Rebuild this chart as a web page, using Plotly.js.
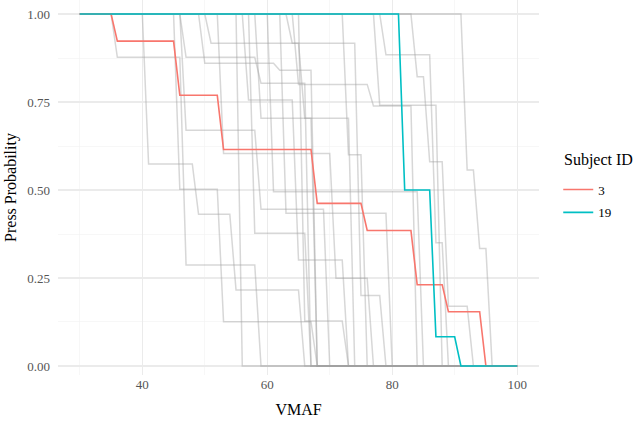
<!DOCTYPE html>
<html>
<head>
<meta charset="utf-8">
<script src="https://cdn.plot.ly/plotly-3.0.1.min.js"></script>
<style>html,body{margin:0;padding:0;background:#fff;}#chart{width:639px;height:425px;}</style>
</head>
<body>
<div id="chart"></div>
<script>
// Highlighted subjects
const subject3_x = [30, 35, 36, 45, 46, 52, 53, 67, 68, 75, 76, 83, 84, 88, 89, 94, 95, 100];
const subject3_y = [1, 1, 0.923, 0.923, 0.769, 0.769, 0.615, 0.615, 0.462, 0.462, 0.385, 0.385, 0.231, 0.231, 0.154, 0.154, 0, 0];
const subject19_x = [30, 81, 82, 86, 87, 90, 91, 100];
const subject19_y = [1, 1, 0.5, 0.5, 0.083, 0.083, 0, 0];

// Other subjects (grey background curves)
const g01_x = [30, 35, 36, 46, 47, 58, 59, 100];
const g01_y = [1, 1, 0.877, 0.877, 0.287, 0.287, 0, 0];
const g02_x = [30, 40, 41, 48, 49, 54, 55, 65, 66, 100];
const g02_y = [1, 1, 0.574, 0.574, 0.431, 0.431, 0.216, 0.216, 0, 0];
const g03_x = [30, 45, 46, 52, 53, 67, 68, 100];
const g03_y = [1, 1, 0.502, 0.502, 0.126, 0.126, 0, 0];
const g04_x = [30, 46, 47, 58, 59, 69, 70, 100];
const g04_y = [1, 1, 0.67, 0.67, 0.445, 0.445, 0, 0];
const g05_x = [30, 55, 56, 100];
const g05_y = [1, 1, 0, 0];
const g06_x = [30, 50, 51, 65, 66, 73, 74, 100];
const g06_y = [1, 1, 0.917, 0.917, 0.704, 0.704, 0, 0];
const g07_x = [30, 46, 47, 58, 59, 66, 67, 100];
const g07_y = [1, 1, 0.877, 0.877, 0.803, 0.803, 0, 0];
const g08_x = [30, 56, 57, 64, 65, 72, 73, 100];
const g08_y = [1, 1, 0.756, 0.756, 0.301, 0.301, 0, 0];
const g09_x = [30, 58, 59, 67, 68, 100];
const g09_y = [1, 1, 0.704, 0.704, 0, 0];
const g10_x = [30, 49, 50, 61, 62, 67, 68, 100];
const g10_y = [1, 1, 0.86, 0.86, 0.84, 0.84, 0, 0];
const g11_x = [30, 52, 53, 70, 71, 76, 77, 100];
const g11_y = [1, 1, 0.604, 0.604, 0.249, 0.249, 0, 0];
const g12_x = [30, 57, 58, 66, 67, 100];
const g12_y = [1, 1, 0.377, 0.377, 0, 0];
const g13_x = [30, 60, 61, 84, 85, 100];
const g13_y = [1, 1, 0.495, 0.495, 0, 0];
const g14_x = [30, 62, 63, 79, 80, 100];
const g14_y = [1, 1, 0.434, 0.434, 0, 0];
const g15_x = [30, 64, 65, 76, 77, 83, 84, 100];
const g15_y = [1, 1, 0.8, 0.8, 0.739, 0.739, 0, 0];
const g16_x = [30, 65, 66, 72, 73, 100];
const g16_y = [1, 1, 0.128, 0.128, 0, 0];
const g17_x = [30, 72, 73, 75, 76, 100];
const g17_y = [1, 1, 0.6, 0.6, 0, 0];
const g18_x = [30, 77, 78, 87, 88, 100];
const g18_y = [1, 1, 0.741, 0.741, 0, 0];
const g19_x = [30, 78, 79, 86, 87, 88, 89, 100];
const g19_y = [1, 1, 0.884, 0.884, 0.35, 0.35, 0, 0];
const g20_x = [30, 83, 84, 85, 86, 88, 89, 92, 93, 100];
const g20_y = [1, 1, 0.822, 0.822, 0.58, 0.58, 0.17, 0.17, 0, 0];
const g21_x = [30, 91, 92, 93, 94, 95, 96, 100];
const g21_y = [1, 1, 0.557, 0.557, 0.334, 0.334, 0, 0];
const g22_x = [30, 63, 64, 74, 75, 78, 79, 100];
const g22_y = [1, 1, 0.917, 0.917, 0.2, 0.2, 0, 0];

const greyX = [g01_x, g02_x, g03_x, g04_x, g05_x, g06_x, g07_x, g08_x, g09_x, g10_x, g11_x,
               g12_x, g13_x, g14_x, g15_x, g16_x, g17_x, g18_x, g19_x, g20_x, g21_x, g22_x];
const greyY = [g01_y, g02_y, g03_y, g04_y, g05_y, g06_y, g07_y, g08_y, g09_y, g10_y, g11_y,
               g12_y, g13_y, g14_y, g15_y, g16_y, g17_y, g18_y, g19_y, g20_y, g21_y, g22_y];

const xTicks = [40, 60, 80, 100];
const xMinor = [30, 50, 70, 90];
const yTicks = [0, 0.25, 0.5, 0.75, 1];
const yTickText = ['0.00', '0.25', '0.50', '0.75', '1.00'];
const yMinor = [0.125, 0.375, 0.625, 0.875];

const traces = [];
for (let i = 0; i < greyX.length; i++) {
  traces.push({
    x: greyX[i], y: greyY[i], type: 'scatter', mode: 'lines',
    line: {color: 'rgba(160,160,160,0.42)', width: 1.5},
    showlegend: false, hoverinfo: 'skip'
  });
}
traces.push({x: subject3_x, y: subject3_y, type: 'scatter', mode: 'lines', name: '3',
  legendgroup: 's3', line: {color: '#F8766D', width: 1.6}});
traces.push({x: subject19_x, y: subject19_y, type: 'scatter', mode: 'lines', name: '19',
  legendgroup: 's19', line: {color: '#00BFC4', width: 1.6}});

const fontFam = 'Liberation Serif';
const layout = {
  width: 639, height: 425,
  margin: {l: 58, r: 100, t: 0, b: 50, pad: 0},
  paper_bgcolor: '#ffffff', plot_bgcolor: '#ffffff',
  font: {family: fontFam, size: 13, color: '#4d4d4d'},
  xaxis: {
    range: [26.5, 103.5], tickvals: xTicks, ticktext: xTicks.map(String),
    showgrid: true, gridcolor: '#ebebeb', gridwidth: 1.1,
    minor: {tickvals: xMinor, showgrid: true, gridcolor: '#f1f1f1', gridwidth: 0.6},
    zeroline: false, showline: false, ticks: '',
    tickfont: {family: fontFam, size: 13, color: '#555555'},
    title: {text: 'VMAF', font: {family: fontFam, size: 16, color: '#000'}, standoff: 12}
  },
  yaxis: {
    range: [-0.0256, 1.0398], tickvals: yTicks, ticktext: yTickText,
    showgrid: true, gridcolor: '#ebebeb', gridwidth: 1.1,
    minor: {tickvals: yMinor, showgrid: true, gridcolor: '#f1f1f1', gridwidth: 0.6},
    zeroline: false, showline: false, ticks: '', ticklabelstandoff: 7,
    tickfont: {family: fontFam, size: 13, color: '#555555'},
    title: {text: 'Press Probability', font: {family: fontFam, size: 16, color: '#000'}, standoff: 6}
  },
  legend: {
    x: 1.04, xanchor: 'left', y: (425 - 50 - 201) / 375, yanchor: 'middle',
    font: {family: fontFam, size: 13, color: '#000'},
    bgcolor: 'rgba(0,0,0,0)', itemwidth: 30, tracegroupgap: 3
  },
  annotations: [{
    text: 'Subject ID', xref: 'paper', yref: 'paper', x: 1.048, y: (425 - 50 - 160) / 375,
    xanchor: 'left', yanchor: 'middle', showarrow: false,
    font: {family: fontFam, size: 16, color: '#000'}
  }],
  showlegend: true
};
Plotly.newPlot('chart', traces, layout, {staticPlot: true, displayModeBar: false});
</script>
</body>
</html>
